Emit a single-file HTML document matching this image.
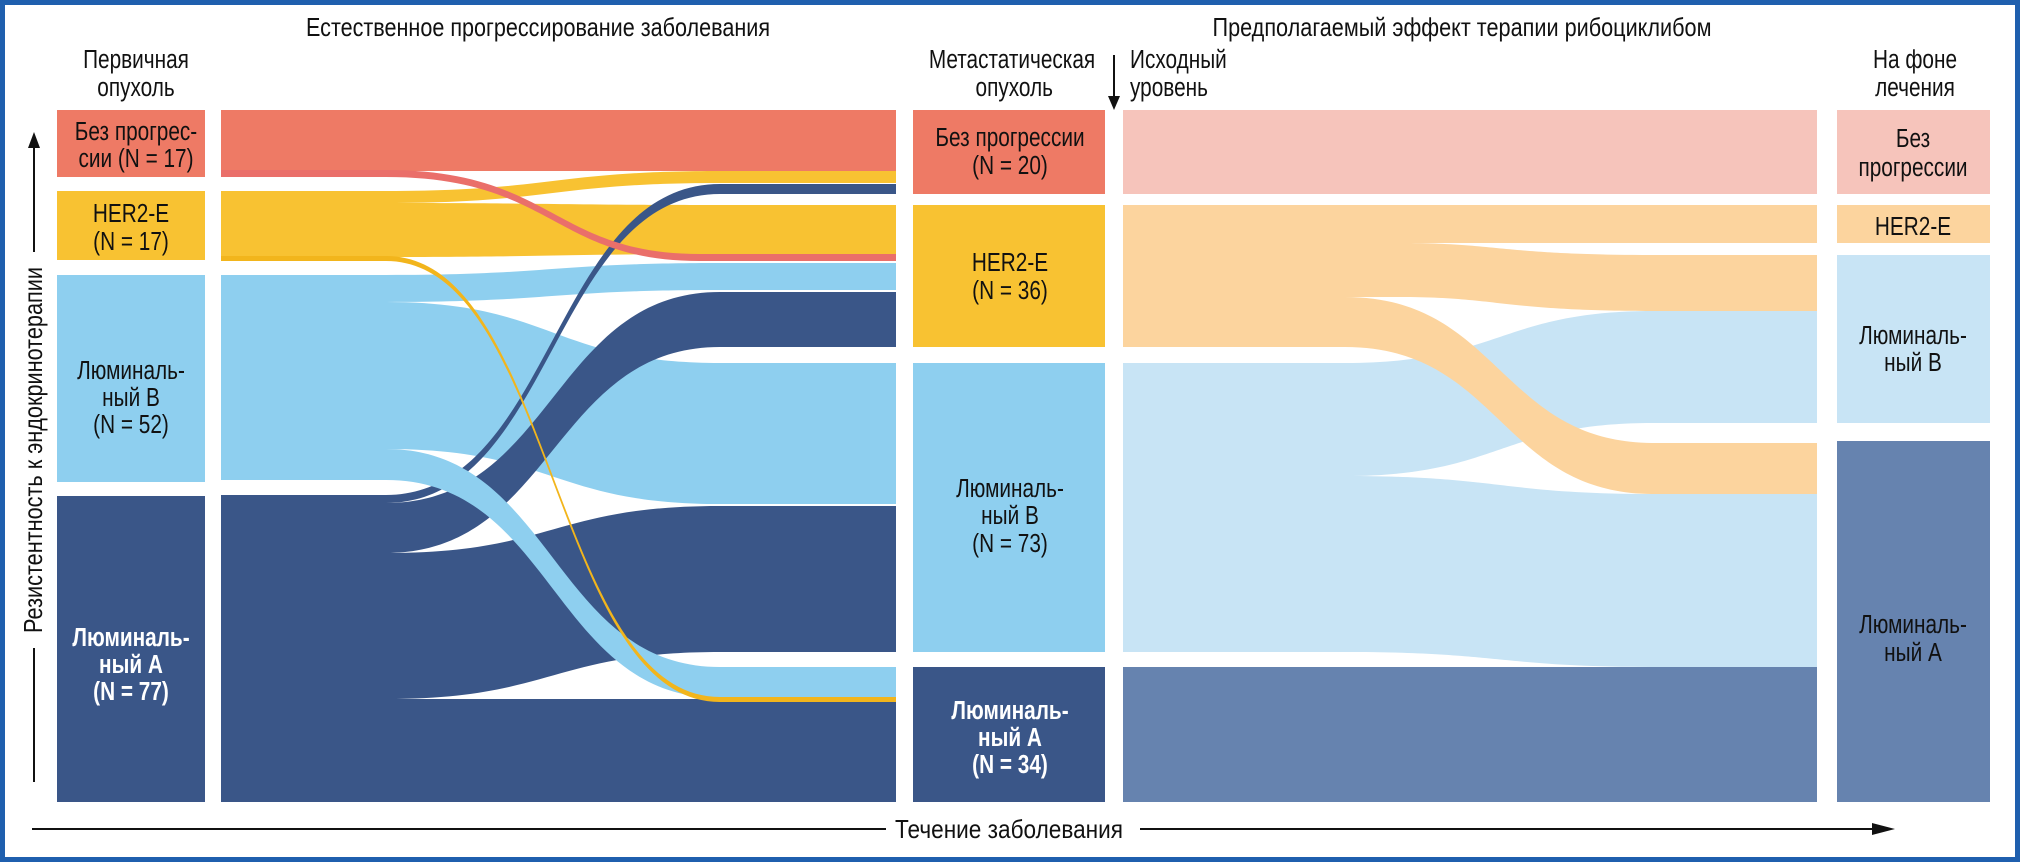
<!DOCTYPE html>
<html><head><meta charset="utf-8"><style>
html,body{margin:0;padding:0;background:#fff}
svg{display:block}
text{font-family:"Liberation Sans",sans-serif;font-size:26px;fill:#111}
.w{fill:#fff;font-weight:bold}
</style></head><body>
<svg width="2020" height="863" viewBox="0 0 2020 863" xmlns="http://www.w3.org/2000/svg">
<rect x="2.5" y="2.5" width="2015" height="857" fill="#fff" stroke="#1f5fae" stroke-width="5"/>

<rect x="57" y="110" width="148" height="67" fill="#ee7a65"/>
<rect x="57" y="191" width="148" height="69" fill="#f8c232"/>
<rect x="57" y="275" width="148" height="207" fill="#8ecfef"/>
<rect x="57" y="496" width="148" height="306" fill="#3a5688"/>

<g>
<path d="M221 110 H896 V171 H221 Z" fill="#ee7a65"/>
<path d="M221 203 H386 C553 203,553 205,720 205 H896 V254 H720 C553 254,553 257,386 257 H221 Z" fill="#f8c232"/>
<path d="M221 191 H386 C553 191,553 171,720 171 H896 V183 H720 C553 183,553 203,386 203 H221 Z" fill="#f8c232"/>
<path d="M221 275 H386 C553 275,553 263,720 263 H896 V290 H720 C553 290,553 302,386 302 H221 Z" fill="#8ecfef"/>
<path d="M221 302 H386 C553 302,553 363,720 363 H896 V504 H720 C553 504,553 449,386 449 H221 Z" fill="#8ecfef"/>
<path d="M221 699 H896 V802 H221 Z" fill="#3a5688"/>
<path d="M221 495 H386 C553 495,553 184,720 184 H896 V194 H720 C553 194,553 503,386 503 H221 Z" fill="#3a5688"/>
<path d="M221 503 H386 C553 503,553 292,720 292 H896 V347 H720 C553 347,553 553,386 553 H221 Z" fill="#3a5688"/>
<path d="M221 553 H386 C553 553,553 506,720 506 H896 V652 H720 C553 652,553 699,386 699 H221 Z" fill="#3a5688"/>
<path d="M221 449 H386 C553 449,553 667,720 667 H896 V698 H720 C553 698,553 480,386 480 H221 Z" fill="#8ecfef"/>
<path d="M221 170 H386 C553 170,553 254,700 254 H896 V261 H700 C553 261,553 177,386 177 H221 Z" fill="#ea6f6a"/>
<path d="M221 256 H386 C553 256,553 697,720 697 H896 V702 H720 C553 702,553 261,386 261 H221 Z" fill="#f2b51c"/>
</g>

<rect x="913" y="110" width="192" height="84" fill="#ee7a65"/>
<rect x="913" y="205" width="192" height="142" fill="#f8c232"/>
<rect x="913" y="363" width="192" height="289" fill="#8ecfef"/>
<rect x="913" y="667" width="192" height="135" fill="#3a5688"/>

<g>
<path d="M1123 110 H1817 V194 H1123 Z" fill="#f6c4bb"/>
<path d="M1123 205 H1817 V243 H1123 Z" fill="#fcd49e"/>
<path d="M1123 667 H1817 V802 H1123 Z" fill="#6683af"/>
<path d="M1123 363 H1345 C1500 363,1500 311,1654 311 H1817 V423 H1654 C1500 423,1500 476,1345 476 H1123 Z" fill="#c8e4f5"/>
<path d="M1123 476 H1345 C1500 476,1500 494,1654 494 H1817 V667 H1654 C1500 667,1500 652,1345 652 H1123 Z" fill="#c8e4f5"/>
<path d="M1123 243 H1400 C1500 243,1500 255,1654 255 H1817 V311 H1654 C1500 311,1500 297,1400 297 H1123 Z" fill="#fcd49e"/>
<path d="M1123 297 H1345 C1500 297,1500 443,1654 443 H1817 V494 H1654 C1500 494,1500 347,1345 347 H1123 Z" fill="#fcd49e"/>
</g>

<rect x="1837" y="110" width="153" height="84" fill="#f6c4bb"/>
<rect x="1837" y="205" width="153" height="38" fill="#fcd49e"/>
<rect x="1837" y="255" width="153" height="168" fill="#c8e4f5"/>
<rect x="1837" y="441" width="153" height="361" fill="#6683af"/>

<text x="538" y="36" text-anchor="middle" textLength="464" lengthAdjust="spacingAndGlyphs">Естественное прогрессирование заболевания</text>
<text x="1462" y="36" text-anchor="middle" textLength="499" lengthAdjust="spacingAndGlyphs">Предполагаемый эффект терапии рибоциклибом</text>

<g text-anchor="middle">
<text transform="translate(136,68) scale(0.8,1)">Первичная</text>
<text transform="translate(136,96) scale(0.8,1)">опухоль</text>
<text transform="translate(1012,68) scale(0.8,1)">Метастатическая</text>
<text transform="translate(1915,68) scale(0.8,1)">На фоне</text>
<text transform="translate(1915,96) scale(0.8,1)">лечения</text>
</g>
<text transform="translate(1053,96) scale(0.8,1)" text-anchor="end">опухоль</text>
<text transform="translate(1130,68) scale(0.8,1)">Исходный</text>
<text transform="translate(1130,96) scale(0.8,1)">уровень</text>

<line x1="1114" y1="55" x2="1114" y2="100" stroke="#111" stroke-width="2"/>
<path d="M1108 96 L1114 110 L1120 96 Z" fill="#111"/>

<line x1="34" y1="145" x2="34" y2="252" stroke="#111" stroke-width="2"/>
<path d="M28 148 L34 132 L40 148 Z" fill="#111"/>
<line x1="34" y1="648" x2="34" y2="782" stroke="#111" stroke-width="2"/>
<text transform="translate(42,450) rotate(-90)" text-anchor="middle" textLength="366" lengthAdjust="spacingAndGlyphs">Резистентность к эндокринотерапии</text>

<line x1="32" y1="829" x2="886" y2="829" stroke="#111" stroke-width="2"/>
<text x="1009" y="838" text-anchor="middle" textLength="228" lengthAdjust="spacingAndGlyphs">Течение заболевания</text>
<line x1="1140" y1="829" x2="1880" y2="829" stroke="#111" stroke-width="2"/>
<path d="M1872 823 L1895 829 L1872 835 Z" fill="#111"/>

<g text-anchor="middle">
<text transform="translate(136,140) scale(0.8,1)">Без прогрес-</text>
<text transform="translate(136,167) scale(0.8,1)">сии (N = 17)</text>
<text transform="translate(131,222) scale(0.8,1)">HER2-E</text>
<text transform="translate(131,250) scale(0.8,1)">(N = 17)</text>
<text transform="translate(131,379) scale(0.8,1)">Люминаль-</text>
<text transform="translate(131,406) scale(0.8,1)">ный B</text>
<text transform="translate(131,433) scale(0.8,1)">(N = 52)</text>
<text class="w" transform="translate(131,646) scale(0.8,1)">Люминаль-</text>
<text class="w" transform="translate(131,673) scale(0.8,1)">ный А</text>
<text class="w" transform="translate(131,700) scale(0.8,1)">(N = 77)</text>

<text transform="translate(1010,146) scale(0.8,1)">Без прогрессии</text>
<text transform="translate(1010,174) scale(0.8,1)">(N = 20)</text>
<text transform="translate(1010,271) scale(0.8,1)">HER2-E</text>
<text transform="translate(1010,299) scale(0.8,1)">(N = 36)</text>
<text transform="translate(1010,497) scale(0.8,1)">Люминаль-</text>
<text transform="translate(1010,524) scale(0.8,1)">ный B</text>
<text transform="translate(1010,552) scale(0.8,1)">(N = 73)</text>
<text class="w" transform="translate(1010,719) scale(0.8,1)">Люминаль-</text>
<text class="w" transform="translate(1010,746) scale(0.8,1)">ный А</text>
<text class="w" transform="translate(1010,773) scale(0.8,1)">(N = 34)</text>

<text transform="translate(1913,147) scale(0.8,1)">Без</text>
<text transform="translate(1913,176) scale(0.8,1)">прогрессии</text>
<text transform="translate(1913,235) scale(0.8,1)">HER2-E</text>
<text transform="translate(1913,344) scale(0.8,1)">Люминаль-</text>
<text transform="translate(1913,371) scale(0.8,1)">ный B</text>
<text transform="translate(1913,633) scale(0.8,1)">Люминаль-</text>
<text transform="translate(1913,661) scale(0.8,1)">ный А</text>
</g>
</svg>
</body></html>
